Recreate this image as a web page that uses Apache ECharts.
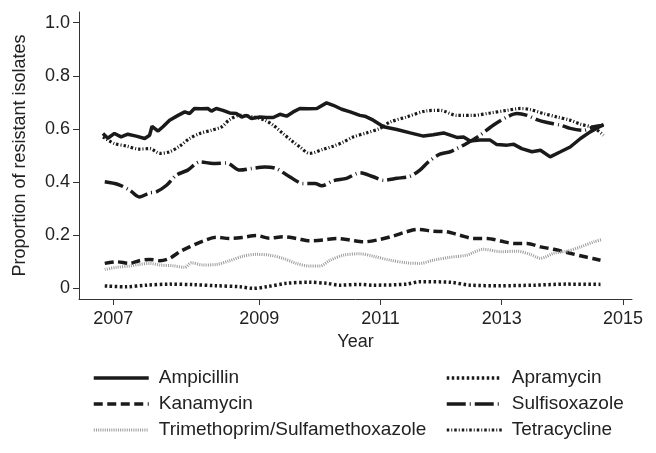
<!DOCTYPE html>
<html>
<head>
<meta charset="utf-8">
<script src="https://cdn.jsdelivr.net/npm/echarts@6/dist/echarts.min.js"></script>
<style>
html,body{margin:0;padding:0;background:#fff;}
#chart{width:656px;height:453px;}
</style>
</head>
<body>
<div id="chart"></div>
<script>
// ---- data (x = year, y = proportion of resistant isolates) ----
const seriesNames = ['Ampicillin','Kanamycin','Trimethoprim/Sulfamethoxazole','Apramycin','Sulfisoxazole','Tetracycline'];

const ampicillin = [
[2006.42,0.583],[2006.50,0.565],[2006.61,0.583],[2006.72,0.570],[2006.83,0.580],[2006.97,0.573],
[2007.11,0.564],[2007.19,0.576],[2007.23,0.610],[2007.33,0.592],[2007.41,0.608],[2007.52,0.633],
[2007.66,0.651],[2007.77,0.664],[2007.85,0.658],[2007.93,0.677],[2008.04,0.676],[2008.15,0.677],
[2008.21,0.667],[2008.29,0.677],[2008.40,0.670],[2008.51,0.660],[2008.62,0.658],[2008.71,0.645],
[2008.79,0.651],[2008.87,0.639],[2009.01,0.645],[2009.12,0.643],[2009.23,0.643],[2009.34,0.655],
[2009.45,0.648],[2009.56,0.664],[2009.67,0.677],[2009.81,0.676],[2009.95,0.677],[2010.11,0.698],
[2010.22,0.689],[2010.36,0.674],[2010.50,0.664],[2010.66,0.651],[2010.74,0.648],[2010.88,0.633],
[2011.05,0.608],[2011.27,0.598],[2011.49,0.585],[2011.71,0.573],[2011.87,0.578],[2012.04,0.585],
[2012.26,0.568],[2012.37,0.570],[2012.48,0.555],[2012.64,0.558],[2012.81,0.558],[2012.92,0.541],
[2013.09,0.539],[2013.20,0.542],[2013.33,0.526],[2013.50,0.514],[2013.64,0.520],[2013.80,0.495],
[2013.97,0.514],[2014.13,0.532],[2014.30,0.564],[2014.46,0.589],[2014.68,0.617]
];

const kanamycin = [
[2006.45,0.094],[2006.64,0.100],[2006.86,0.094],[2007.02,0.104],[2007.19,0.109],[2007.36,0.104],
[2007.52,0.113],[2007.69,0.138],[2007.85,0.156],[2008.07,0.178],[2008.29,0.192],[2008.51,0.188],
[2008.73,0.192],[2008.95,0.199],[2009.17,0.189],[2009.39,0.194],[2009.61,0.188],[2009.83,0.179],
[2010.05,0.182],[2010.28,0.188],[2010.50,0.182],[2010.72,0.175],[2010.99,0.184],[2011.21,0.197],
[2011.43,0.213],[2011.62,0.222],[2011.87,0.215],[2012.09,0.213],[2012.31,0.200],[2012.53,0.188],
[2012.76,0.188],[2012.98,0.178],[2013.20,0.169],[2013.42,0.169],[2013.64,0.156],[2013.86,0.147],
[2014.13,0.132],[2014.41,0.117],[2014.63,0.106]
];

const trimethoprimSulfa = [
[2006.45,0.071],[2006.64,0.079],[2006.86,0.084],[2007.02,0.090],[2007.19,0.094],[2007.36,0.088],
[2007.58,0.085],[2007.77,0.079],[2007.88,0.096],[2008.07,0.088],[2008.29,0.090],[2008.51,0.104],
[2008.73,0.121],[2008.95,0.128],[2009.17,0.125],[2009.39,0.113],[2009.61,0.094],[2009.83,0.084],
[2010.00,0.084],[2010.17,0.106],[2010.39,0.125],[2010.66,0.130],[2010.88,0.121],[2011.16,0.106],
[2011.43,0.096],[2011.65,0.094],[2011.87,0.106],[2012.15,0.117],[2012.42,0.125],[2012.70,0.147],
[2012.98,0.138],[2013.25,0.140],[2013.47,0.128],[2013.64,0.113],[2013.86,0.132],[2014.08,0.140],
[2014.30,0.156],[2014.52,0.175],[2014.66,0.184]
];

const apramycin = [
[2006.45,0.009],[2006.80,0.006],[2007.14,0.012],[2007.52,0.016],[2007.91,0.014],[2008.29,0.010],
[2008.68,0.006],[2008.90,0.000],[2009.12,0.006],[2009.45,0.019],[2009.83,0.023],[2010.11,0.019],
[2010.33,0.012],[2010.66,0.015],[2010.88,0.012],[2011.43,0.016],[2011.65,0.025],[2012.15,0.023],
[2012.48,0.012],[2012.98,0.010],[2013.53,0.012],[2014.08,0.016],[2014.63,0.015]
];

const sulfisoxazole = [
[2006.45,0.401],[2006.67,0.391],[2006.86,0.370],[2007.02,0.344],[2007.19,0.359],[2007.30,0.363],
[2007.47,0.388],[2007.63,0.426],[2007.82,0.445],[2008.02,0.476],[2008.24,0.470],[2008.46,0.472],
[2008.68,0.445],[2008.87,0.451],[2009.09,0.457],[2009.28,0.451],[2009.50,0.420],[2009.72,0.395],
[2009.92,0.395],[2010.03,0.386],[2010.22,0.405],[2010.44,0.414],[2010.66,0.435],[2010.88,0.420],
[2011.05,0.407],[2011.27,0.414],[2011.49,0.422],[2011.65,0.445],[2011.79,0.476],[2011.98,0.505],
[2012.15,0.514],[2012.26,0.526],[2012.42,0.545],[2012.64,0.576],[2012.86,0.614],[2013.09,0.645],
[2013.25,0.658],[2013.42,0.651],[2013.58,0.635],[2013.75,0.624],[2013.97,0.614],[2014.13,0.602],
[2014.35,0.595],[2014.52,0.608],[2014.68,0.614]
];

const tetracycline = [
[2006.42,0.570],[2006.61,0.545],[2006.80,0.536],[2007.02,0.524],[2007.19,0.526],[2007.36,0.508],
[2007.52,0.514],[2007.69,0.536],[2007.85,0.564],[2008.02,0.583],[2008.21,0.595],[2008.38,0.608],
[2008.51,0.635],[2008.68,0.651],[2008.90,0.645],[2009.09,0.633],[2009.23,0.614],[2009.39,0.583],
[2009.56,0.551],[2009.67,0.532],[2009.83,0.508],[2010.05,0.523],[2010.22,0.535],[2010.39,0.551],
[2010.55,0.570],[2010.77,0.585],[2010.99,0.602],[2011.16,0.626],[2011.43,0.645],[2011.76,0.668],
[2011.98,0.670],[2012.26,0.651],[2012.53,0.651],[2012.81,0.660],[2013.09,0.670],[2013.31,0.677],
[2013.47,0.673],[2013.69,0.658],[2013.91,0.645],[2014.13,0.633],[2014.30,0.618],[2014.52,0.604],
[2014.68,0.576]
];

// tick labels
const xTickValues = [2006.59, 2009, 2011, 2013, 2015];
const xTickLabels = ['2007', '2009', '2011', '2013', '2015'];
const yTickValues = [0, 0.2, 0.4, 0.6, 0.8, 1.0];
const yTickLabels = ['0', '0.2', '0.4', '0.6', '0.8', '1.0'];

// ---- chart ----
const FONT = "'Liberation Sans', Arial, Helvetica, sans-serif";
const TXT = '#222';
const AX = '#333';

function nearestLabel(v, vals, labels) {
  let best = 0, bd = Infinity;
  vals.forEach((t, i) => { const d = Math.abs(t - v); if (d < bd) { bd = d; best = i; } });
  return labels[best];
}

const styles = {
  'Ampicillin': { color: '#1a1a1a', width: 3.5, type: 'solid', smooth: false },
  'Kanamycin': { color: '#1a1a1a', width: 3.5, type: [9, 4.5], smooth: 0.3 },
  'Trimethoprim/Sulfamethoxazole': { color: '#9a9a9a', width: 3, type: [1, 1.2], smooth: 0.3 },
  'Apramycin': { color: '#1a1a1a', width: 3.5, type: [2.5, 2.5], smooth: 0.3 },
  'Sulfisoxazole': { color: '#1a1a1a', width: 3.5, type: [19, 4, 1, 4], smooth: 0.3 },
  'Tetracycline': { color: '#1a1a1a', width: 3.2, type: [2.5, 2, 1, 2], smooth: 0.3 }
};
const dataMap = {
  'Ampicillin': ampicillin,
  'Kanamycin': kanamycin,
  'Trimethoprim/Sulfamethoxazole': trimethoprimSulfa,
  'Apramycin': apramycin,
  'Sulfisoxazole': sulfisoxazole,
  'Tetracycline': tetracycline
};

const series = seriesNames.map(n => ({
  name: n,
  type: 'line',
  data: dataMap[n],
  showSymbol: false,
  symbol: 'none',
  smooth: styles[n].smooth,
  animation: false,
  lineStyle: { color: styles[n].color, width: styles[n].width, type: styles[n].type, cap: 'butt' },
  itemStyle: { color: styles[n].color }
}));

function legendItems(names) {
  return names.map(n => ({
    name: n,
    lineStyle: { width: styles[n].width, type: styles[n].type, color: styles[n].color }
  }));
}

const legendCommon = {
  orient: 'vertical',
  padding: 0,
  itemWidth: 55,
  itemHeight: 12,
  itemGap: 6,
  selectedMode: false,
  itemStyle: { opacity: 0, color: 'rgba(0,0,0,0)', borderWidth: 0 },
  textStyle: { fontFamily: FONT, fontSize: 19, color: TXT, lineHeight: 20, padding: [0, 0, 0, 5] }
};

const chart = echarts.init(document.getElementById('chart'), null, { renderer: 'canvas' });
chart.setOption({
  animation: false,
  backgroundColor: '#fff',
  grid: { left: 79, top: 12, right: 24, bottom: 154, containLabel: false },
  legend: [
    Object.assign({}, legendCommon, { left: 92, top: 368, data: legendItems(['Ampicillin', 'Kanamycin', 'Trimethoprim/Sulfamethoxazole']) }),
    Object.assign({}, legendCommon, { left: 445, top: 368, data: legendItems(['Apramycin', 'Sulfisoxazole', 'Tetracycline']) })
  ],
  xAxis: {
    type: 'value',
    min: 2006.025,
    max: 2015.15,
    name: 'Year',
    nameLocation: 'middle',
    nameGap: 28,
    nameTextStyle: { fontFamily: FONT, fontSize: 18, color: TXT },
    axisLine: { show: true, onZero: false, lineStyle: { color: AX, width: 1 } },
    axisTick: { show: true, length: 6, lineStyle: { color: AX }, customValues: xTickValues },
    axisLabel: {
      fontFamily: FONT, fontSize: 18, color: TXT, margin: 11,
      customValues: xTickValues,
      formatter: v => nearestLabel(v, xTickValues, xTickLabels)
    },
    splitLine: { show: false }
  },
  yAxis: {
    type: 'value',
    min: -0.04,
    max: 1.04,
    name: 'Proportion of resistant isolates',
    nameLocation: 'middle',
    nameGap: 50,
    nameTextStyle: { fontFamily: FONT, fontSize: 18, color: TXT },
    axisLine: { show: true, onZero: false, lineStyle: { color: AX, width: 1 } },
    axisTick: { show: true, length: 6, lineStyle: { color: AX }, customValues: yTickValues },
    axisLabel: {
      fontFamily: FONT, fontSize: 18, color: TXT, margin: 9,
      customValues: yTickValues,
      formatter: v => nearestLabel(v, yTickValues, yTickLabels)
    },
    splitLine: { show: false }
  },
  series: series
});
</script>
</body>
</html>
